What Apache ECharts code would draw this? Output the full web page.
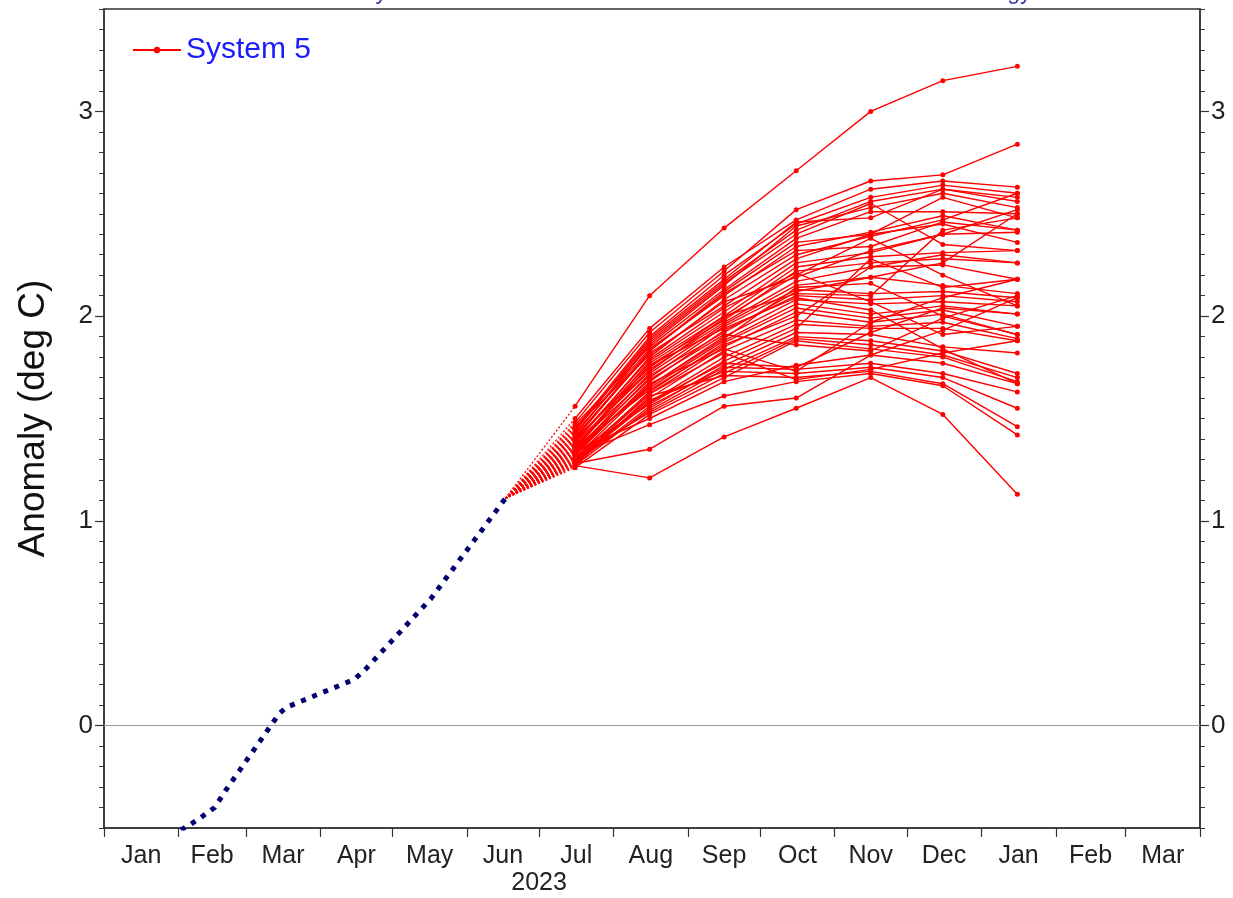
<!DOCTYPE html>
<html><head><meta charset="utf-8">
<script src="https://cdn.jsdelivr.net/npm/echarts@6/dist/echarts.min.js"></script>
<style>html,body{margin:0;padding:0;background:#fff}#c{width:1233px;height:898px}</style>
</head><body><div id="c"></div>
<script>
// ---------- data ----------
const monthLabels = ['Jan','Feb','Mar','Apr','May','Jun','Jul','Aug','Sep','Oct','Nov','Dec','Jan','Feb','Mar'];
const yearLabel = '2023';
const yTickLabels = [0, 1, 2, 3];
const titleText = 'Monthly mean anomalies relative to NCEP OIv2 1991-2020 climatology';
const legendName = 'System 5';

// observed anomaly
const obsDates  = ['2023-02-02','2023-02-09','2023-02-16','2023-02-21','2023-03-12','2023-03-15','2023-03-18','2023-04-15','2023-04-19','2023-05-17','2023-06-17'];
const obsValues = [-0.51, -0.46, -0.40, -0.31, 0.01, 0.06, 0.09, 0.225, 0.265, 0.62, 1.11];

// forecast plume
const fanStartDate = '2023-06-17';
const fanStartValue = 1.11;
const fcDates = ['2023-07-16','2023-08-16','2023-09-16','2023-10-16','2023-11-16','2023-12-16','2024-01-16'];
// each member: Jul, Aug, Sep, Oct, Nov, Dec, Jan
const members = [
  [1.56, 2.10, 2.43, 2.71, 3.00, 3.15, 3.22],
  [1.48, 1.92, 2.22, 2.52, 2.66, 2.69, 2.84],
  [1.50, 1.94, 2.24, 2.47, 2.62, 2.66, 2.63],
  [1.45, 1.90, 2.20, 2.45, 2.58, 2.64, 2.60],
  [1.44, 1.88, 2.17, 2.42, 2.56, 2.62, 2.58],
  [1.42, 1.86, 2.15, 2.44, 2.53, 2.60, 2.53],
  [1.47, 1.85, 2.13, 2.38, 2.51, 2.51, 2.50],
  [1.40, 1.83, 2.12, 2.36, 2.40, 2.58, 2.48],
  [1.43, 1.84, 2.10, 2.34, 2.41, 2.49, 2.42],
  [1.38, 1.80, 2.08, 2.30, 2.39, 2.47, 2.60],
  [1.41, 1.82, 2.05, 2.28, 2.40, 2.45, 2.36],
  [1.36, 1.78, 2.02, 2.26, 2.31, 2.40, 2.41],
  [1.39, 1.77, 2.00, 2.24, 2.29, 2.31, 2.32],
  [1.35, 1.76, 1.98, 2.22, 2.26, 2.28, 2.26],
  [1.46, 1.81, 2.07, 2.19, 2.32, 2.40, 2.52],
  [1.37, 1.74, 1.97, 2.17, 2.24, 2.25, 2.18],
  [1.34, 1.72, 1.96, 2.15, 2.19, 2.15, 2.11],
  [1.33, 1.70, 1.95, 2.13, 2.11, 2.12, 2.09],
  [1.40, 1.75, 2.00, 2.11, 2.10, 2.42, 2.48],
  [1.32, 1.68, 1.93, 2.10, 2.08, 2.10, 2.07],
  [1.31, 1.66, 1.90, 2.08, 2.06, 2.07, 2.05],
  [1.35, 1.65, 1.88, 2.06, 2.01, 2.05, 2.01],
  [1.30, 1.63, 1.87, 2.04, 1.99, 2.03, 1.95],
  [1.29, 1.62, 1.85, 2.02, 1.97, 2.01, 1.91],
  [1.36, 1.64, 1.86, 2.00, 2.24, 2.30, 2.26],
  [1.28, 1.60, 1.83, 1.98, 1.95, 1.97, 1.89],
  [1.30, 1.58, 1.80, 1.96, 1.94, 1.94, 1.88],
  [1.33, 1.57, 1.78, 1.94, 2.28, 2.14, 2.18],
  [1.27, 1.55, 1.76, 1.92, 1.91, 1.85, 1.82],
  [1.29, 1.54, 1.74, 1.90, 1.88, 1.83, 1.72],
  [1.31, 1.53, 1.72, 1.89, 1.86, 1.81, 1.70],
  [1.26, 1.52, 1.70, 1.88, 1.84, 1.80, 1.68],
  [1.34, 1.50, 1.68, 1.76, 1.81, 1.77, 1.67],
  [1.28, 1.56, 1.75, 1.74, 1.77, 1.72, 1.63],
  [1.30, 1.59, 1.73, 1.72, 1.75, 1.70, 1.55],
  [1.27, 1.61, 1.71, 1.70, 1.73, 1.67, 1.46],
  [1.32, 1.47, 1.61, 1.68, 1.72, 1.66, 1.42],
  [1.28, 1.35, 1.56, 1.60, 1.81, 1.93, 2.09],
  [1.27, 1.21, 1.41, 1.55, 1.70, 1.52, 1.13],
  [1.38, 1.73, 1.99, 2.20, 2.38, 2.20, 2.05],
  [1.42, 1.87, 2.16, 2.40, 2.55, 2.35, 2.32],
  [1.44, 1.89, 2.18, 2.46, 2.48, 2.62, 2.56],
  [1.39, 1.79, 2.04, 2.21, 2.07, 1.91, 1.95],
  [1.37, 1.71, 1.92, 2.12, 2.19, 2.26, 2.50],
  [1.35, 1.69, 1.91, 1.86, 1.83, 1.99, 2.10],
  [1.33, 1.67, 1.84, 1.73, 1.97, 2.09, 2.18],
  [1.31, 1.62, 1.82, 1.69, 1.74, 1.82, 1.88],
  [1.29, 1.58, 1.77, 1.75, 1.92, 2.04, 2.01],
  [1.34, 1.66, 1.89, 2.14, 2.16, 2.00, 1.91],
  [1.41, 1.83, 2.11, 2.32, 2.34, 2.46, 2.42],
  [1.36, 1.76, 1.94, 2.09, 2.03, 1.84, 1.67]
];

// ---------- helpers ----------
const DAY = 86400000;
const ORIGIN = Date.UTC(2023, 0, 1);
function dayOf(s) { const p = s.split('-').map(Number); return (Date.UTC(p[0], p[1] - 1, p[2]) - ORIGIN) / DAY; }
const monthStarts = [];
for (let i = 0; i <= monthLabels.length; i++) monthStarts.push((Date.UTC(2023, i, 1) - ORIGIN) / DAY);
const labelVals = [], labelTexts = [];
for (let i = 0; i < monthLabels.length; i++) { labelVals.push((monthStarts[i] + monthStarts[i + 1]) / 2); labelTexts.push(monthLabels[i]); }
labelVals.push(monthStarts[6]); labelTexts.push('\n' + yearLabel);
function xLabel(v) { for (let i = 0; i < labelVals.length; i++) if (Math.abs(labelVals[i] - v) < 1e-6) return labelTexts[i]; return ''; }

const FONT = 'Liberation Sans, Arial, Helvetica, sans-serif';
const AX = '#333';
const RED = '#ff0000';

const series = [];
series.push({
  name: 'Observed', type: 'line', xAxisIndex: 0, yAxisIndex: 0,
  data: obsDates.map((d, i) => [dayOf(d), obsValues[i]]),
  symbol: 'none', silent: true, z: 3,
  lineStyle: { color: '#00006e', width: 5, type: [5, 7], cap: 'butt' },
  markLine: { silent: true, symbol: 'none', label: { show: false }, animation: false,
    lineStyle: { color: '#9a9a9a', width: 1, type: 'solid' }, data: [{ yAxis: 0 }] }
});
members.forEach((m) => {
  series.push({
    name: 'fan', type: 'line', xAxisIndex: 0, yAxisIndex: 0, silent: true, z: 4,
    data: [[dayOf(fanStartDate), fanStartValue], [dayOf(fcDates[0]), m[0]]],
    symbol: 'none', lineStyle: { color: RED, width: 1.3, type: [2, 2] }
  });
});
members.forEach((m) => {
  series.push({
    name: legendName, type: 'line', xAxisIndex: 0, yAxisIndex: 0, silent: true, z: 5,
    data: fcDates.map((d, i) => [dayOf(d), m[i]]),
    symbol: 'circle', symbolSize: 5, showSymbol: true,
    itemStyle: { color: RED }, lineStyle: { color: RED, width: 1.4 }
  });
});

const yBase = { type: 'value', min: -0.5, max: 3.5, splitLine: { show: false } };
const option = {
  animation: false,
  backgroundColor: '#fff',
  grid: { left: 104, right: 33, top: 9, bottom: 70, show: true, borderColor: AX, borderWidth: 1.5, backgroundColor: 'transparent' },
  graphic: [{ type: 'text', x: 669, y: 4, silent: true,
    style: { text: titleText, fill: '#3a3aa6', font: '23px ' + FONT, align: 'center', verticalAlign: 'bottom' } }],
  legend: { data: [legendName], left: 127, top: 30, itemWidth: 48, itemHeight: 8, itemGap: 5,
    textStyle: { color: '#1a1aff', fontSize: 30, fontFamily: FONT } },
  xAxis: [{
    type: 'value', min: 0, max: monthStarts[monthStarts.length - 1],
    axisLine: { show: true, onZero: false, lineStyle: { color: AX, width: 1.5 } },
    axisTick: { show: true, customValues: monthStarts, length: 9, lineStyle: { color: AX, width: 1.2 } },
    axisLabel: { customValues: labelVals, formatter: xLabel, fontSize: 25, lineHeight: 27, margin: 15, color: '#222', fontFamily: FONT },
    splitLine: { show: false }
  }],
  yAxis: [
    Object.assign({}, yBase, { position: 'left', interval: 0.1,
      axisLine: { show: true, onZero: false, lineStyle: { color: AX, width: 1.5 } },
      axisTick: { show: true, length: 5, lineStyle: { color: AX } }, axisLabel: { show: false },
      name: 'Anomaly (deg C)', nameLocation: 'middle', nameGap: 52,
      nameTextStyle: { fontSize: 37, fontFamily: FONT, color: '#111' } }),
    Object.assign({}, yBase, { position: 'left',
      axisLine: { show: false, onZero: false },
      axisTick: { show: true, length: 9, customValues: yTickLabels, lineStyle: { color: AX, width: 1.2 } },
      axisLabel: { customValues: yTickLabels, margin: 11, fontSize: 26, color: '#222', fontFamily: FONT } }),
    Object.assign({}, yBase, { position: 'right', interval: 0.1,
      axisLine: { show: true, onZero: false, lineStyle: { color: AX, width: 1.5 } },
      axisTick: { show: true, length: 5, lineStyle: { color: AX } }, axisLabel: { show: false } }),
    Object.assign({}, yBase, { position: 'right',
      axisLine: { show: false, onZero: false },
      axisTick: { show: true, length: 9, customValues: yTickLabels, lineStyle: { color: AX, width: 1.2 } },
      axisLabel: { customValues: yTickLabels, margin: 11, fontSize: 26, color: '#222', fontFamily: FONT } })
  ],
  series: series
};
const chart = echarts.init(document.getElementById('c'), null, { renderer: 'canvas' });
chart.setOption(option);
</script>
</body></html>
